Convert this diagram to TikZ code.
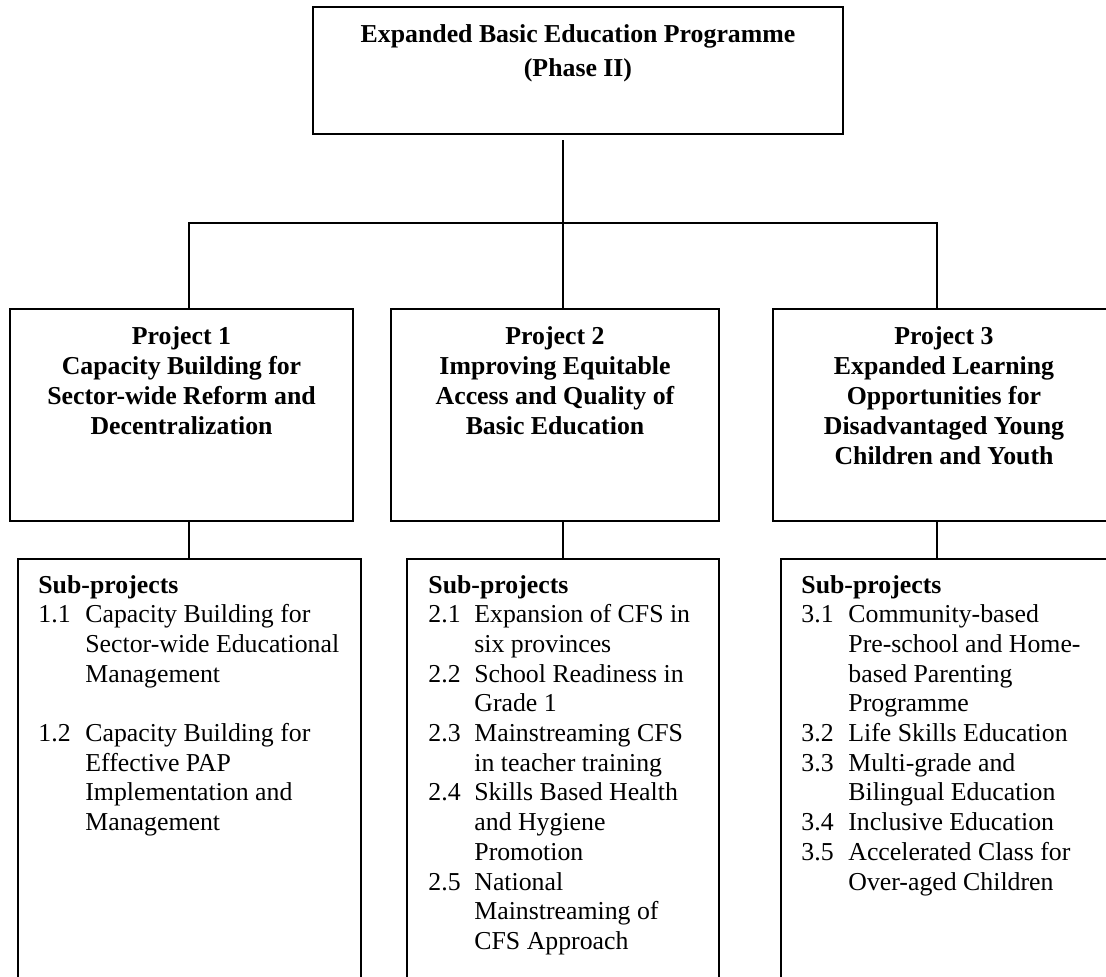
\documentclass[tikz,border=0pt]{standalone}
\usepackage{fontspec}
\setmainfont{Liberation Serif}
\usepackage{array}
\begin{document}
\begin{tikzpicture}[x=0.5pt,y=-0.5pt,
  box/.style={draw=black, line width=0.9pt, inner sep=0pt, outer sep=0pt},
  conn/.style={draw=black, line width=0.9pt, line join=miter},
  bigtitle/.style={anchor=base, inner sep=0pt, font=\fontsize{12.9}{17}\selectfont\bfseries},
  ptitle/.style={anchor=base, inner sep=0pt, font=\fontsize{12.9}{15}\selectfont\bfseries},
  sublist/.style={anchor=base west, inner sep=0pt, font=\fontsize{12.9}{14.85}\selectfont}]
\useasboundingbox (0,0) rectangle (1106,976);
\clip (0,0) rectangle (1106,976);
% boxes
\node[box, minimum width=265pt, minimum height=63.5pt] (top) at (578,70.5) {};
\node[box, minimum width=171.5pt, minimum height=106pt] (p1) at (181.5,415) {};
\node[box, minimum width=164pt, minimum height=106pt] (p2) at (555,415) {};
\node[box, minimum width=171pt, minimum height=106pt] (p3) at (944,415) {};
\node[box, minimum width=171.5pt, minimum height=215.5pt] (s1) at (189.5,774.5) {};
\node[box, minimum width=156pt, minimum height=215.5pt] (s2) at (563,774.5) {};
\node[box, minimum width=171.5pt, minimum height=215.5pt] (s3) at (952.5,774.5) {};
% junctions
\coordinate (jl) at (189,223);
\coordinate (jm) at (563,223);
\coordinate (jr) at (937,223);
% connectors
\draw[conn, shorten <=3pt] (top.south -| jm) -- (jm);
\draw[conn] (jl |- p1.north) -- (jl) -- (jr) -- (jr |- p3.north);
\draw[conn] (jm) -- (jm |- p2.north);
\draw[conn] (jl |- p1.south) -- (jl |- s1.north);
\draw[conn] (jm |- p2.south) -- (jm |- s2.north);
\draw[conn] (jr |- p3.south) -- (jr |- s3.north);
% texts
\node[bigtitle] (t0) at (578,42) {\begin{tabular}[t]{@{}c@{}}Expanded Basic Education Programme\\(Phase II)\end{tabular}};
\node[ptitle] (t1) at (181.5,344) {\begin{tabular}[t]{@{}c@{}}Project 1\\Capacity Building for\\Sector-wide Reform and\\Decentralization\end{tabular}};
\node[ptitle] (t2) at (555,344) {\begin{tabular}[t]{@{}c@{}}Project 2\\Improving Equitable\\Access and Quality of\\Basic Education\end{tabular}};
\node[ptitle] (t3) at (944,344) {\begin{tabular}[t]{@{}c@{}}Project 3\\Expanded Learning\\Opportunities for\\Disadvantaged Young\\Children and Youth\end{tabular}};
\node[sublist] (l1) at (38,593) {\begin{tabular}[t]{@{}p{23.5pt}@{}l@{}}
\multicolumn{2}{@{}l@{}}{\bfseries Sub-projects}\\
1.1 & Capacity Building for\\
 & Sector-wide Educational\\
 & Management\\
 & \\
1.2 & Capacity Building for\\
 & Effective PAP\\
 & Implementation and\\
 & Management
\end{tabular}};
\node[sublist] (l2) at (428,593) {\begin{tabular}[t]{@{}p{23pt}@{}l@{}}
\multicolumn{2}{@{}l@{}}{\bfseries Sub-projects}\\
2.1 & Expansion of CFS in\\
 & six provinces\\
2.2 & School Readiness in\\
 & Grade 1\\
2.3 & Mainstreaming CFS\\
 & in teacher training\\
2.4 & Skills Based Health\\
 & and Hygiene\\
 & Promotion\\
2.5 & National\\
 & Mainstreaming of\\
 & CFS Approach
\end{tabular}};
\node[sublist] (l3) at (801,593) {\begin{tabular}[t]{@{}p{23.5pt}@{}l@{}}
\multicolumn{2}{@{}l@{}}{\bfseries Sub-projects}\\
3.1 & Community-based\\
 & Pre-school and Home-\\
 & based Parenting\\
 & Programme\\
3.2 & Life Skills Education\\
3.3 & Multi-grade and\\
 & Bilingual Education\\
3.4 & Inclusive Education\\
3.5 & Accelerated Class for\\
 & Over-aged Children
\end{tabular}};
\end{tikzpicture}
\end{document}
